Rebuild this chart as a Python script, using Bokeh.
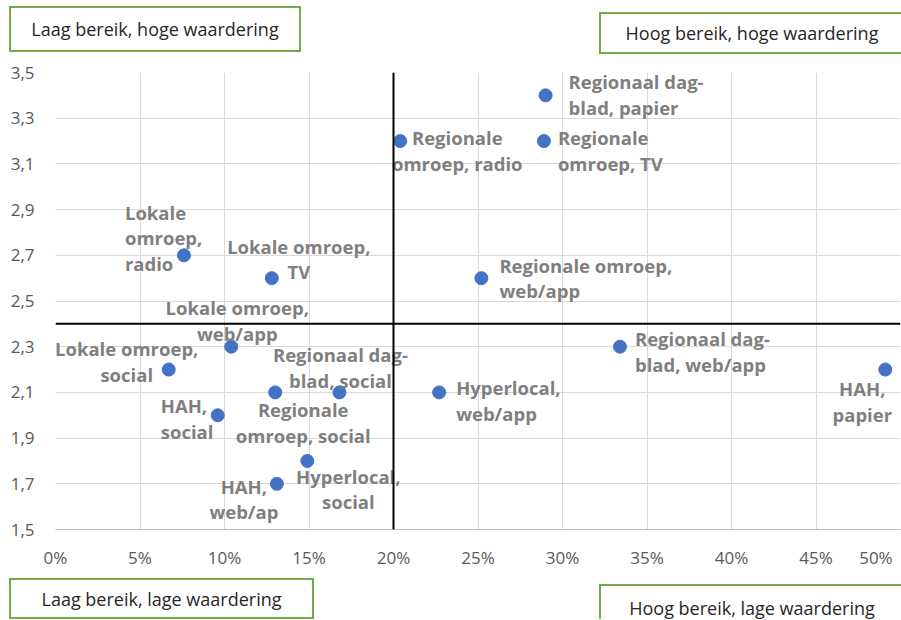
from bokeh.plotting import figure
from bokeh.layouts import column
from bokeh.models import Span, ColumnDataSource, FixedTicker, CustomJSTickFormatter, Div
from bokeh.core.properties import value
from bokeh.embed import file_html
from bokeh.resources import INLINE

# ---- data ----
names = [
    "Regionaal dag-\nblad, papier",
    "Regionale\nomroep, radio",
    "Regionale\nomroep, TV",
    "Lokale\nomroep,\nradio",
    "Lokale omroep,\nTV",
    "Regionale omroep,\nweb/app",
    "Lokale omroep,\nweb/app",
    "Lokale omroep,\nsocial",
    "Regionaal dag-\nblad, web/app",
    "HAH,\npapier",
    "Regionaal dag-\nblad, social",
    "Regionale\nomroep, social",
    "Hyperlocal,\nweb/app",
    "HAH,\nsocial",
    "Hyperlocal,\nsocial",
    "HAH,\nweb/ap",
]
reach = [29.0, 20.4, 28.9, 7.6, 12.8, 25.2, 10.4, 6.7, 33.4, 49.1, 16.8, 13.0, 22.7, 9.6, 14.9, 13.1]
rating = [3.4, 3.2, 3.2, 2.7, 2.6, 2.6, 2.3, 2.2, 2.3, 2.2, 2.1, 2.1, 2.1, 2.0, 1.8, 1.7]

x_ticks = [0, 5, 10, 15, 20, 25, 30, 35, 40, 45, 50]
x_tick_labels = ["0%", "5%", "10%", "15%", "20%", "25%", "30%", "35%", "40%", "45%", "50%"]
y_ticks = [1.5, 1.7, 1.9, 2.1, 2.3, 2.5, 2.7, 2.9, 3.1, 3.3, 3.5]
y_tick_labels = ["1,5", "1,7", "1,9", "2,1", "2,3", "2,5", "2,7", "2,9", "3,1", "3,3", "3,5"]

x_cross = 20
y_cross = 2.4

top_texts = ["Laag bereik, hoge waardering", "Hoog bereik, hoge waardering"]
bottom_texts = ["Laag bereik, lage waardering", "Hoog bereik, lage waardering"]

# ---- label placement (style, screen pixels) ----
label_align = ["left", "center", "left", "left", "center", "left", "center", "center",
               "left", "center", "center", "center", "left", "left", "center", "center"]
label_dx = [23, 57, 14, -59, 27, 18, 6, -42, 15, -23, 1, 28, 17, -57, 41, -33]
label_dy = [-1, 9.5, 9.5, -17.5, -19, 0, -26, -8, 5, 32, -25, 30, 8, 3, 28, 15]

# ---- quadrant box layout (pixels within the strips): left, top, width, height ----
TOP_H = 60
BOT_H = 46
top_boxes = [(9, 6, 292, 46), (599, 12, 320, 42)]
bot_boxes = [(9, 5, 305, 41), (599, 11, 320, 48)]

FONT = "Open Sans"
W = 901


def strip(height, boxes, texts):
    inner = "".join(
        f'<div style="position:absolute;left:{l}px;top:{t}px;width:{w}px;height:{h}px;'
        f'box-sizing:border-box;border:2px solid #70ad47;background:white;'
        f'display:flex;align-items:center;justify-content:center;'
        f'{"padding-right:" + str(w - 306) + "px;" if w > 310 else ""}'
        f'white-space:nowrap;">{txt}</div>'
        for (l, t, w, h), txt in zip(boxes, texts)
    )
    html = (f'<div style="position:relative;width:{W}px;height:{height}px;overflow:hidden;'
            f"font-family:'{FONT}';font-size:18px;line-height:1;color:#262626;\">{inner}</div>")
    return Div(text=html, width=W, height=height, margin=0,
               styles={"overflow": "hidden"})


top = strip(TOP_H, top_boxes, top_texts)
bottom = strip(BOT_H, bot_boxes, bottom_texts)

p = figure(
    frame_width=845, frame_height=457,
    min_border_left=55, min_border_right=1, min_border_top=12, min_border_bottom=44,
    x_range=(x_ticks[0], x_ticks[-1]), y_range=(y_ticks[0], y_ticks[-1]),
    output_backend="svg", toolbar_location=None,
)
p.outline_line_color = None
p.background_fill_color = "white"
p.border_fill_color = "white"

p.xgrid.ticker = FixedTicker(ticks=x_ticks)
p.ygrid.ticker = FixedTicker(ticks=y_ticks)
p.grid.grid_line_color = "#d9d9d9"
p.grid.grid_line_width = 1

fmt_code = """
const i = tvals.findIndex(t => Math.abs(t - tick) < 1e-9);
if (i < 0) return "";
return (i == tvals.length - 1 && pad) ? tlabels[i] + "\\u00a0\\u00a0" : tlabels[i];
"""
xa = p.xaxis[0]
xa.ticker = FixedTicker(ticks=x_ticks)
xa.formatter = CustomJSTickFormatter(args=dict(tvals=x_ticks, tlabels=x_tick_labels, pad=True), code=fmt_code)
xa.axis_line_color = "#bfbfbf"
xa.major_tick_line_color = None
xa.minor_tick_line_color = None
xa.major_tick_out = 0
xa.major_label_standoff = 16
xa.major_label_text_font = FONT
xa.major_label_text_font_size = "17px"
xa.major_label_text_color = "#595959"

ya = p.yaxis[0]
ya.ticker = FixedTicker(ticks=y_ticks)
ya.formatter = CustomJSTickFormatter(args=dict(tvals=y_ticks, tlabels=y_tick_labels, pad=False), code=fmt_code)
ya.axis_line_color = None
ya.major_tick_line_color = None
ya.minor_tick_line_color = None
ya.major_tick_out = 0
ya.major_label_standoff = 21
ya.major_label_text_font = FONT
ya.major_label_text_font_size = "17px"
ya.major_label_text_color = "#595959"

p.add_layout(Span(location=x_cross, dimension="height", line_color="black", line_width=2))
p.add_layout(Span(location=y_cross, dimension="width", line_color="black", line_width=2))

src = ColumnDataSource(dict(x=reach, y=rating, name=names, align=label_align, dx=label_dx, dy=label_dy))
p.scatter("x", "y", source=src, size=13, fill_color="#4472c4", line_color="#4472c4")
p.text("x", "y", text="name", source=src, text_align="align", x_offset="dx", y_offset="dy",
       text_baseline="middle", text_font=value(FONT), text_font_style="bold",
       text_font_size="18.5px", text_color="#7f7f7f", text_line_height=1.02)

layout = column(top, p, bottom, spacing=0)
open("out.html", "w").write(file_html(layout, INLINE))
